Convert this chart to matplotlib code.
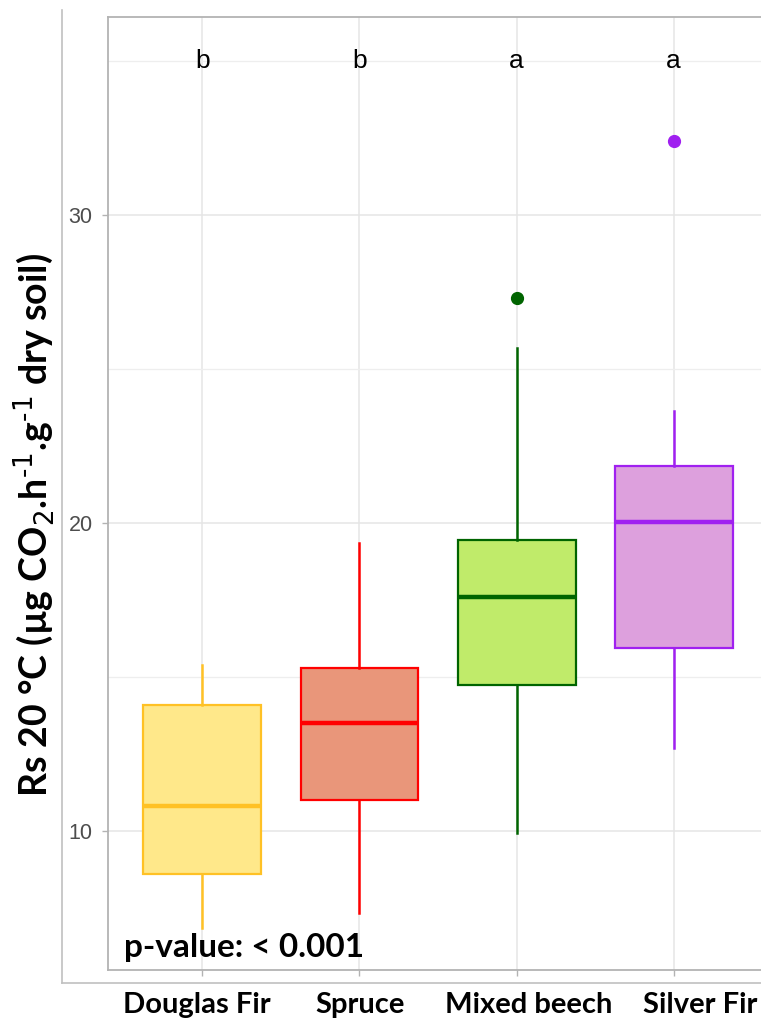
import matplotlib

matplotlib.use('Agg')
import matplotlib.pyplot as plt
from matplotlib.lines import Line2D
from matplotlib.ticker import MultipleLocator

# --- данные ---
species = ["Douglas Fir", "Spruce", "Mixed beech", "Silver Fir"]
q1 = [8.6, 11.0, 14.75, 15.95]
median = [10.8, 13.5, 17.6, 20.05]
q3 = [14.1, 15.3, 19.45, 21.85]
whisker_low = [6.85, 7.35, 9.95, 12.7]
whisker_high = [15.4, 19.35, 25.7, 23.65]
outliers = [[], [], [27.3], [32.4]]
letters = ["b", "b", "a", "a"]
p_text = "p-value: < 0.001"

fill_colors = ["#FFE88A", "#E9967A", "#C0EB6A", "#DDA0DD"]
edge_colors = ["#FFC125", "#FF0000", "#006400", "#A020F0"]

# подписи по оси X в оригинале немного сдвинуты (пиксели)
label_shift_px = [-5, 1, 12, 26]

W, H = 761, 1018
fig = plt.figure(figsize=(W / 100, H / 100), dpi=100)
ax = fig.add_axes([108 / W, (H - 970) / H, (768 - 108) / W, (970 - 17) / H])

plt.rcParams['mathtext.fontset'] = 'custom'
plt.rcParams['mathtext.rm'] = 'Lato:bold'
plt.rcParams['mathtext.it'] = 'Lato:bold'
plt.rcParams['mathtext.bf'] = 'Lato:bold'

stats = []
for i, name in enumerate(species):
    stats.append(dict(label=name, q1=q1[i], med=median[i], q3=q3[i],
                      whislo=whisker_low[i], whishi=whisker_high[i],
                      fliers=outliers[i]))

pos = list(range(1, len(species) + 1))
for i, s in enumerate(stats):
    ec = edge_colors[i]
    ax.bxp([s], positions=[pos[i]], widths=0.75, patch_artist=True,
           showcaps=False,
           boxprops=dict(facecolor=fill_colors[i], edgecolor=ec, linewidth=1.6),
           whiskerprops=dict(color=ec, linewidth=1.8),
           medianprops=dict(color=ec, linewidth=3.2, solid_capstyle='butt'),
           flierprops=dict(marker='o', markerfacecolor=ec, markeredgecolor=ec,
                           markersize=8.5, linestyle='none'),
           zorder=3)

for i, lt in enumerate(letters):
    ax.text(pos[i], 35, lt, ha='center', va='center', fontsize=19,
            family='Liberation Sans', color='black', zorder=4)

ax.text(0.5, 5.9, p_text, ha='left', va='baseline', fontsize=24,
        family='Lato', fontweight='bold', color='black', zorder=4)

ax.set_xlim(0.4, 4.6)
ax.set_ylim(5.49, 36.43)
ax.yaxis.set_major_locator(MultipleLocator(10))
ax.yaxis.set_minor_locator(MultipleLocator(5))
ax.set_xticks(pos)
ax.set_xticklabels([])
# подписи категорий - отдельным текстом, чтобы можно было сдвинуть
for i, name in enumerate(species):
    ax.annotate(name, xy=(pos[i], 0), xycoords=ax.get_xaxis_transform(),
                xytext=(label_shift_px[i] * 0.72, -16), textcoords='offset points',
                ha='center', va='top', fontsize=21, family='Lato',
                fontweight='bold', color='black', annotation_clip=False)
for lab in ax.get_yticklabels():
    lab.set_family('Liberation Sans')
ax.tick_params(axis='y', which='major', labelsize=15.5, labelcolor='#4D4D4D',
               color='#B3B3B3', length=4, width=1, pad=7)
ax.tick_params(axis='y', which='minor', length=0)
ax.tick_params(axis='x', color='#B3B3B3', length=4, width=1)

ax.grid(which='major', color='#E5E5E5', linewidth=1.1, zorder=0)
ax.grid(which='minor', axis='y', color='#EEEEEE', linewidth=0.9, zorder=0)
ax.set_axisbelow(True)
for sp in ax.spines.values():
    sp.set_color('#B3B3B3')
    sp.set_linewidth(1.3)

ax.set_ylabel(r"Rs 20 °C (µg CO$_2$.h$^{\text{-1}}$.g$^{\text{-1}}$ dry soil)", fontsize=27,
              family='Lato', fontweight='bold')
ax.yaxis.set_label_coords(-0.078, 0.467)

# рамка вокруг картинки
fig.add_artist(Line2D([62 / W, 62 / W], [(H - 10) / H, (H - 983) / H],
                      color='#C0C0C0', linewidth=1.2))
fig.add_artist(Line2D([62 / W, 1.0], [(H - 983) / H, (H - 983) / H],
                      color='#C0C0C0', linewidth=1.2))

fig.savefig("out.png", dpi=100)
